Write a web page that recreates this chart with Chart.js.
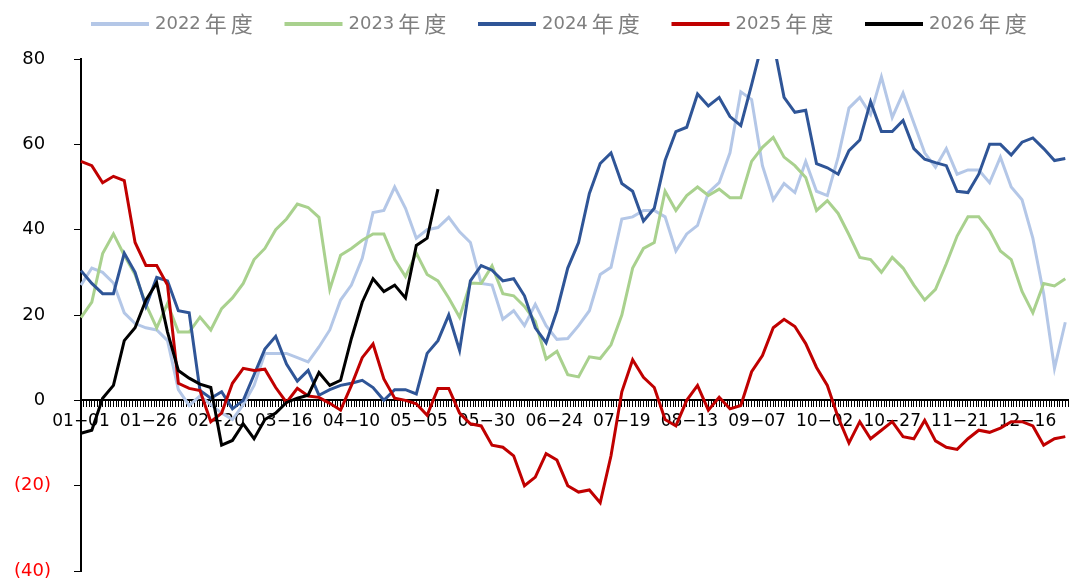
<!DOCTYPE html>
<html>
<head>
<meta charset="utf-8">
<script src="https://cdn.jsdelivr.net/npm/chart.js@4.4.1/dist/chart.umd.min.js"></script>
<style>
  html, body { margin: 0; padding: 0; background: #fff; }
  #wrap { width: 1073px; height: 581px; }
</style>
</head>
<body>
<div id="wrap"><canvas id="chart"></canvas></div>
<script>
const seriesNames = ['2022年度', '2023年度', '2024年度', '2025年度', '2026年度'];
const seriesColors = ['#B4C7E7', '#A9D18E', '#2F5597', '#C00000', '#000000'];

// x ticks shown on the axis (every 25 days)
const tickLabels = ['01-01', '01-26', '02-20', '03-16', '04-10', '05-05', '05-30', '06-24',
  '07-19', '08-13', '09-07', '10-02', '10-27', '11-21', '12-16'];

// values every 4th day starting 01-01
const sampleStep = 4;
const v2022 = [27, 31, 30, 27.5, 20.5, 18, 17, 16.5, 14, 2.5,
  -1.2, 1, -1, -3, -4.5, -1, 3.5, 11, 11, 11,
  10, 9, 12.5, 16.5, 23.5, 27, 33.3, 44, 44.5, 50,
  45, 38, 40, 40.5, 42.9, 39.5, 37, 27.4, 27, 19,
  21, 17.5, 22.5, 17.5, 14.3, 14.5, 17.5, 21, 29.5, 31.2,
  42.5, 43, 44.5, 44.5, 43, 35, 39, 41, 48.7, 51,
  58, 72.3, 70.5, 55, 47, 50.8, 48.7, 56, 49, 48,
  57, 68.5, 71, 67, 75.8, 66.3, 72, 65, 58, 54.6,
  59, 53, 54, 54, 51, 57, 50, 47, 38, 25,
  7.5, 18.3];
const v2023 = [19.4, 23, 34.4, 39, 34, 29.5, 22.5, 17, 22.7, 16,
  16, 19.5, 16.5, 21.5, 24, 27.4, 33, 35.6, 40, 42.5,
  46, 45.2, 42.9, 26, 34, 35.6, 37.5, 39, 39, 33,
  29, 34.5, 29.5, 28, 24, 19.5, 27.5, 27.4, 31.5, 25,
  24.5, 22, 18.5, 9.7, 11.5, 6, 5.5, 10.2, 9.8, 13,
  20, 31, 35.6, 37, 49, 44.5, 48, 50, 48, 49.5,
  47.5, 47.5, 56, 59.3, 61.6, 57, 55, 52.2, 44.5, 46.8,
  43.8, 38.8, 33.5, 33, 30, 33.5, 31, 27, 23.5, 26,
  32, 38.5, 43, 43, 39.8, 35, 33, 25.5, 20.5, 27.4,
  26.8, 28.5];
const v2024 = [30.4, 27.4, 25, 25, 34.5, 30, 22, 28.8, 28, 21,
  20.5, 2.3, 0.5, 2, -2, 0, 6, 12, 15, 8.5,
  4.5, 7, 1.2, 2.5, 3.5, 4, 4.7, 3, 0, 2.5,
  2.5, 1.5, 11, 14, 20, 11.7, 28, 31.6, 30.5, 28,
  28.5, 24.5, 17, 13.5, 21, 31, 37, 48.5, 55.5, 58,
  50.8, 49, 42, 45, 56.2, 63, 64, 71.8, 69, 71,
  66.5, 64.4, 74, 84, 84, 71, 67.5, 68, 55.5, 54.5,
  53, 58.5, 61, 70, 63, 63, 65.6, 59, 56.5, 55.7,
  55, 49, 48.7, 53, 60, 60, 57.5, 60.5, 61.5, 59,
  56.2, 56.7];
const v2025 = [56, 55, 51, 52.5, 51.5, 37, 31.6, 31.6, 27, 4,
  2.8, 2.3, -5, -3, 4, 7.5, 7, 7.3, 3, -0.5,
  2.8, 1, 0.7, -0.7, -2.3, 3.5, 10, 13.2, 5, 0.5,
  0, -0.8, -3.5, 2.8, 2.8, -3, -5.5, -6, -10.5, -11,
  -13, -20, -18, -12.5, -14, -20, -21.5, -21, -24, -13,
  2, 9.5, 5.4, 3, -4.5, -6, 0, 3.5, -2.3, 0.7,
  -2, -1.2, 6.7, 10.5, 17, 19, 17.3, 13.3, 7.7, 3.5,
  -4, -10, -5, -9, -7, -5, -8.5, -9, -4.7, -9.5,
  -11, -11.5, -9, -7, -7.5, -6.5, -5, -5, -6, -10.5,
  -9, -8.5];
const v2026 = [-7.7, -7, 0.5, 3.5, 14, 17, 23.5, 27.5, 16, 7,
  5.2, 3.8, 3, -10.5, -9.4, -5.5, -9, -4.5, -3, -0.5,
  0.5, 1.2, 6.5, 3.5, 4.7, 14.5, 23, 28.5, 25.5, 27,
  24, 36.3, 38, 49.5];

// categories: every day of a (leap) year
const dayLabels = [];
for (let d = new Date(2024, 0, 1); d.getFullYear() === 2024; d.setDate(d.getDate() + 1)) {
  dayLabels.push(String(d.getMonth() + 1).padStart(2, '0') + '-' + String(d.getDate()).padStart(2, '0'));
}

function spread(values) {
  const out = new Array(dayLabels.length).fill(null);
  values.forEach((v, k) => { out[k * sampleStep] = v; });
  return out;
}

const allValues = [v2022, v2023, v2024, v2025, v2026];

// legend drawn as in the source: line sample + grey text
const lineLegend = {
  id: 'lineLegend',
  afterDraw(chart) {
    const ctx = chart.ctx;
    ctx.save();
    ctx.textBaseline = 'middle';
    ctx.textAlign = 'left';
    chart.data.datasets.forEach((ds, i) => {
      const x = 91 + i * 193.5;
      const y = 24;
      ctx.strokeStyle = ds.borderColor;
      ctx.lineWidth = 4;
      ctx.beginPath();
      ctx.moveTo(x, y);
      ctx.lineTo(x + 58, y);
      ctx.stroke();
      ctx.fillStyle = '#7F7F7F';
      const year = ds.label.slice(0, 4);
      ctx.font = '18px "DejaVu Sans", sans-serif';
      ctx.fillText(year, x + 64, y);
      let tx = x + 64 + ctx.measureText(year).width + 4;
      ctx.font = '22px "Noto Sans CJK SC", sans-serif';
      for (const ch of ds.label.slice(4)) {
        ctx.fillText(ch, tx, y);
        tx += 26;
      }
    });
    ctx.restore();
  }
};

Chart.defaults.font.family = '"DejaVu Sans", "Noto Sans CJK SC", sans-serif';

new Chart(document.getElementById('chart'), {
  type: 'line',
  data: {
    labels: dayLabels,
    datasets: seriesNames.map((name, i) => ({
      label: name,
      data: spread(allValues[i]),
      borderColor: seriesColors[i],
      backgroundColor: seriesColors[i],
      borderWidth: 3,
      pointRadius: 0,
      tension: 0,
      spanGaps: true,
      order: seriesNames.length - i,
    })),
  },
  options: {
    responsive: true,
    maintainAspectRatio: false,
    animation: false,
    layout: { padding: { top: 59, right: 2, bottom: 10, left: 0 } },
    plugins: {
      legend: { display: false },
      tooltip: { enabled: false },
    },
    scales: {
      x: {
        position: { y: 0 },
        ticks: {
          autoSkip: false,
          maxRotation: 0,
          minRotation: 0,
          padding: 5,
          color: '#000',
          font: { size: 17 },
          callback(value, index) {
            const lbl = dayLabels[index];
            return tickLabels.includes(lbl) ? lbl.replace('-', '\u2212') : '';
          },
        },
        grid: { drawOnChartArea: false, drawTicks: true, tickLength: 6, color: '#000' },
        border: { color: '#000', width: 2 },
        afterFit(scale) { scale.height = 0; },
      },
      y: {
        min: -40,
        max: 80,
        ticks: {
          stepSize: 20,
          padding: 23,
          font: { size: 18 },
          color: (ctx) => (ctx.tick.value < 0 ? '#FF0000' : '#000'),
          callback: (v) => (v < 0 ? '(' + Math.abs(v) + ')' : v + ' '),
        },
        grid: { drawOnChartArea: false, drawTicks: true, tickLength: 7, color: '#000' },
        border: { color: '#000', width: 2 },
        afterFit(scale) {
          scale.width = 81;
          scale.paddingTop = 10;
          scale.paddingBottom = 10;
        },
      },
    },
  },
  plugins: [lineLegend],
});
</script>
</body>
</html>
